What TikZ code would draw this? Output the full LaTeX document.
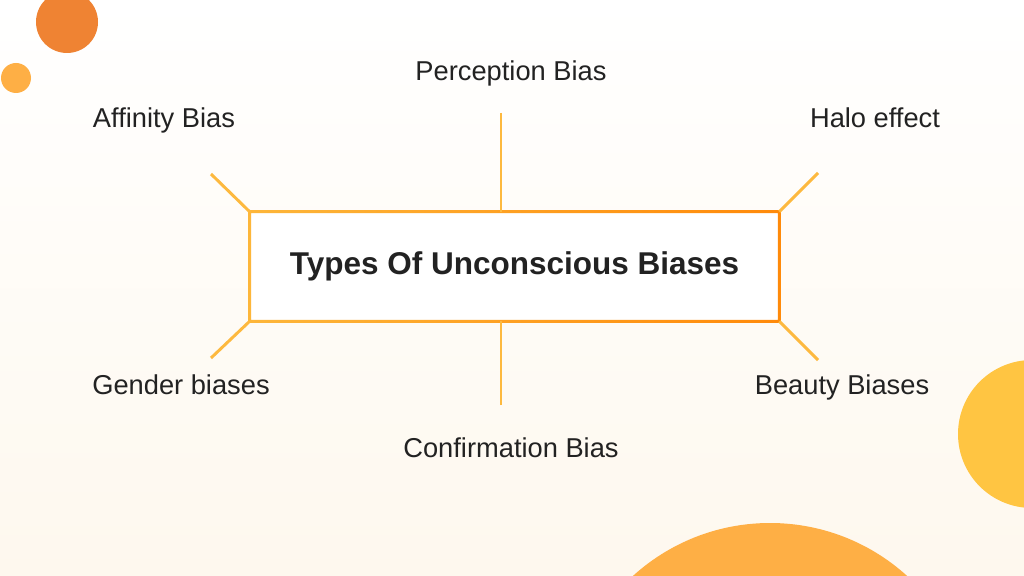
\documentclass[tikz,border=0pt]{standalone}
\usepackage{fontspec}
\setmainfont{Liberation Sans}
\usetikzlibrary{calc}
\definecolor{bgcream}{RGB}{254,248,238}
\definecolor{linegold}{RGB}{253,185,63}
\definecolor{frameleft}{RGB}{253,182,58}
\definecolor{frameright}{RGB}{255,138,10}
\definecolor{dotorange}{RGB}{239,131,51}
\definecolor{dotlight}{RGB}{254,175,69}
\definecolor{dotyellow}{RGB}{255,197,66}
\definecolor{textgray}{RGB}{34,34,34}
\tikzset{biaslabel/.style={text=textgray,font=\fontsize{19.4}{23}\selectfont,inner sep=0pt,anchor=base},
  spoke/.style={draw=linegold,line width=2.1pt}}
\begin{document}
\begin{tikzpicture}[x=0.025cm,y=-0.025cm]
\clip (0,0) rectangle (1024,576);
\shade[top color=white,bottom color=bgcream] (0,0) rectangle (1024,576); %background
\fill[dotorange] (67,22) circle (31); %dots
\fill[dotlight] (16,78) circle (15);
\fill[dotyellow] (1032,434) circle (74);
\fill[dotlight] (770,727) circle (204);
\node (title) at (514.5,266.5) [fill=white,minimum width=13.225cm,minimum height=2.725cm,inner sep=0pt,text=textgray,font=\bfseries\fontsize{22.4}{27}\selectfont] {Types Of Unconscious Biases};
\shade[left color=frameleft,right color=frameright,even odd rule]
  ($(title.north west)+(-1.5,-1.5)$) rectangle ($(title.south east)+(1.5,1.5)$)
  ($(title.north west)+(1.5,1.5)$) rectangle ($(title.south east)+(-1.5,-1.5)$); %frame
\coordinate (top end) at (501,113); %spoke ends
\coordinate (bottom end) at (501,405);
\coordinate (nw end) at (211,174);
\coordinate (ne end) at (818,173);
\coordinate (sw end) at (211,358);
\coordinate (se end) at (818,360);
\draw[spoke] (top end) -- (top end |- title.north);
\draw[spoke] (bottom end) -- (bottom end |- title.south);
\draw[spoke] (nw end) -- (title.north west);
\draw[spoke] (ne end) -- (title.north east);
\draw[spoke] (sw end) -- (title.south west);
\draw[spoke] (se end) -- (title.south east);
\node[biaslabel] (perception) at (511,81) {Perception Bias}; %labels
\node[biaslabel] (affinity) at (164,128) {Affinity Bias};
\node[biaslabel] (halo) at (875,128) {Halo effect};
\node[biaslabel] (gender) at (181,394) {Gender biases};
\node[biaslabel] (beauty) at (842,394) {Beauty Biases};
\node[biaslabel] (confirmation) at (511,457) {Confirmation Bias};
\end{tikzpicture}
\end{document}
